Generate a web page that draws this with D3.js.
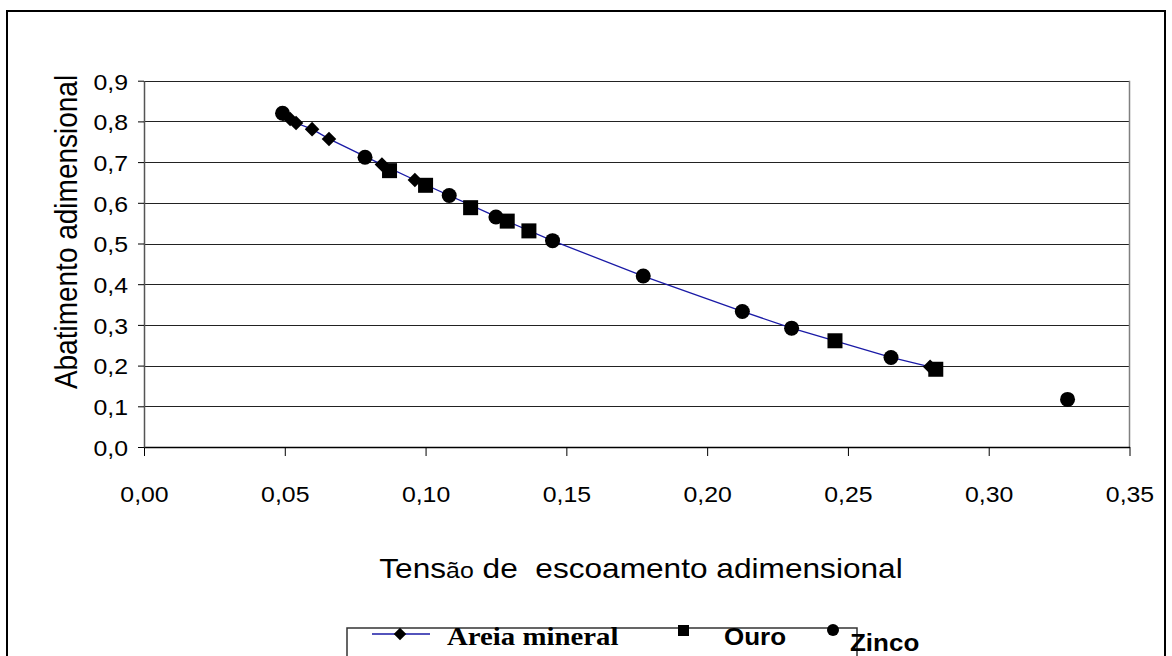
<!DOCTYPE html>
<html>
<head>
<meta charset="utf-8">
<script src="https://cdn.jsdelivr.net/npm/d3@7"></script>
<style>
  html, body { margin: 0; padding: 0; background: #fff; }
  svg { display: block; }
  text { fill: #000; }
</style>
</head>
<body>
<svg id="chart" width="1172" height="656"></svg>
<script>
// ---- data ----
const areiaX = [0.0494, 0.0519, 0.0540, 0.0597, 0.0657, 0.0845, 0.0962, 0.1255, 0.1450, 0.1773, 0.2125, 0.2300, 0.2653, 0.2792];
const areiaY = [0.818, 0.806, 0.796, 0.781, 0.757, 0.694, 0.656, 0.565, 0.507, 0.420, 0.333, 0.292, 0.220, 0.197];
const ouroX = [0.0872, 0.1000, 0.1160, 0.1290, 0.1367, 0.2454, 0.2812];
const ouroY = [0.679, 0.643, 0.588, 0.555, 0.531, 0.261, 0.191];
const zincoX = [0.0492, 0.0785, 0.1084, 0.1250, 0.1451, 0.1773, 0.2125, 0.2300, 0.2653, 0.3280];
const zincoY = [0.820, 0.712, 0.618, 0.565, 0.507, 0.420, 0.333, 0.292, 0.220, 0.117];
const xTicks = [0, 0.05, 0.10, 0.15, 0.20, 0.25, 0.30, 0.35];
const yTicks = [0, 0.1, 0.2, 0.3, 0.4, 0.5, 0.6, 0.7, 0.8, 0.9];
const seriesNames = ["Areia mineral", "Ouro", "Zinco"];
const xTitle = ["Tens", "ão", " de  escoamento adimensional"];
const yTitle = "Abatimento adimensional";

// ---- setup ----
const SANS = "'Liberation Sans', Arial, sans-serif";
const SERIF = "'Liberation Serif', 'Times New Roman', serif";
const svg = d3.select("#chart");
const SX = 1.13; // horizontal glyph stretch seen in the reference
const locale = d3.formatLocale({decimal: ",", thousands: ".", grouping: [3], currency: ["", ""]});
const fx = locale.format(".2f"), fy = locale.format(".1f");

const x = d3.scaleLinear().domain([0, 0.35]).range([144, 1129.5]);
const y = d3.scaleLinear().domain([0, 0.9]).range([447, 80.7]);

// outer border
svg.append("rect").attr("x", 7).attr("y", 11).attr("width", 1158).attr("height", 700)
  .attr("fill", "none").attr("stroke", "#000").attr("stroke-width", 2);

// gridlines
svg.append("g").selectAll("line").data(yTicks.slice(1)).join("line")
  .attr("x1", x(0)).attr("x2", x(0.35))
  .attr("y1", d => Math.round(y(d)) + 0.5).attr("y2", d => Math.round(y(d)) + 0.5)
  .attr("stroke", "#222").attr("stroke-width", 1.2);

// plot area right border
svg.append("line").attr("x1", x(0.35)).attr("x2", x(0.35)).attr("y1", y(0.9)).attr("y2", y(0))
  .attr("stroke", "#808080").attr("stroke-width", 1.5);

// axes
const xAxis = d3.axisBottom(x).tickValues(xTicks).tickSize(9).tickSizeOuter(0).tickFormat(fx);
const gx = svg.append("g").attr("transform", `translate(0,${y(0)})`).call(xAxis);
gx.select(".domain").attr("stroke", "#000").attr("stroke-width", 1.5);
gx.selectAll(".tick line").attr("stroke", "#000");
gx.selectAll(".tick text").attr("y", 55).attr("dy", 0)
  .attr("font-size", 22).style("font-family", SANS)
  .attr("transform", `scale(${SX},1)`);

const yAxis = d3.axisLeft(y).tickValues(yTicks).tickSize(6).tickSizeOuter(0).tickFormat(fy);
const gy = svg.append("g").attr("transform", `translate(${x(0)},0)`).call(yAxis);
gy.select(".domain").attr("stroke", "#555").attr("stroke-width", 1.5);
gy.selectAll(".tick line").attr("stroke", "#000");
gy.selectAll(".tick text").attr("x", -16 / SX).attr("dy", "0.38em")
  .attr("font-size", 22).style("font-family", SANS)
  .attr("transform", `scale(${SX},1)`);

// ---- series ----
const areia = areiaX.map((v, i) => [v, areiaY[i]]);
const ouro = ouroX.map((v, i) => [v, ouroY[i]]);
const zinco = zincoX.map((v, i) => [v, zincoY[i]]);

svg.append("path").datum(areia)
  .attr("d", d3.line().x(d => x(d[0])).y(d => y(d[1])))
  .attr("fill", "none").attr("stroke", "#1a1aa6").attr("stroke-width", 1.3);

const diamond = d3.symbol().type(d3.symbolDiamond2).size(135);
svg.append("g").selectAll("path").data(areia).join("path")
  .attr("d", diamond).attr("transform", d => `translate(${x(d[0])},${y(d[1])})`).attr("fill", "#000");

const sq = 15;
svg.append("g").selectAll("rect").data(ouro).join("rect")
  .attr("x", d => x(d[0]) - sq / 2).attr("y", d => y(d[1]) - sq / 2)
  .attr("width", sq).attr("height", sq).attr("fill", "#000");

svg.append("g").selectAll("circle").data(zinco).join("circle")
  .attr("cx", d => x(d[0])).attr("cy", d => y(d[1])).attr("r", 7.5).attr("fill", "#000");

// ---- titles ----
const xt = svg.append("text").attr("transform", `translate(641,578) scale(${SX},1)`)
  .attr("text-anchor", "middle").attr("font-size", 28)
  .style("font-family", SANS).style("white-space", "pre");
xt.append("tspan").text(xTitle[0]);
xt.append("tspan").attr("font-size", 22).text(xTitle[1]);
xt.append("tspan").text(xTitle[2]);

svg.append("text").attr("transform", `translate(77,232) scale(${SX},1) rotate(-90)`)
  .attr("text-anchor", "middle").attr("font-size", 28).style("font-family", SANS).text(yTitle);

// ---- legend ----
const lg = svg.append("g");
lg.append("rect").attr("x", 347).attr("y", 628).attr("width", 510).attr("height", 60)
  .attr("fill", "#fff").attr("stroke", "#333").attr("stroke-width", 1.5);
lg.append("line").attr("x1", 372).attr("x2", 430).attr("y1", 634).attr("y2", 634)
  .attr("stroke", "#1a1aa6").attr("stroke-width", 1.3);
lg.append("path").attr("d", d3.symbol().type(d3.symbolDiamond2).size(100))
  .attr("transform", "translate(400,634)").attr("fill", "#000");
lg.append("text").attr("transform", `translate(447,645) scale(${SX},1)`)
  .style("font-family", SERIF).attr("font-weight", "bold")
  .attr("font-size", 25.5).text(seriesNames[0]);
lg.append("rect").attr("x", 678).attr("y", 625).attr("width", 11).attr("height", 11).attr("fill", "#000");
lg.append("text").attr("transform", `translate(724,645) scale(${SX},1)`)
  .style("font-family", SANS).attr("font-weight", "bold").attr("font-size", 23).text(seriesNames[1]);
lg.append("circle").attr("cx", 833).attr("cy", 630).attr("r", 6).attr("fill", "#000");
lg.append("text").attr("transform", `translate(850,651) scale(${SX},1)`)
  .style("font-family", SANS).attr("font-weight", "bold").attr("font-size", 23).text(seriesNames[2]);
</script>
</body>
</html>
